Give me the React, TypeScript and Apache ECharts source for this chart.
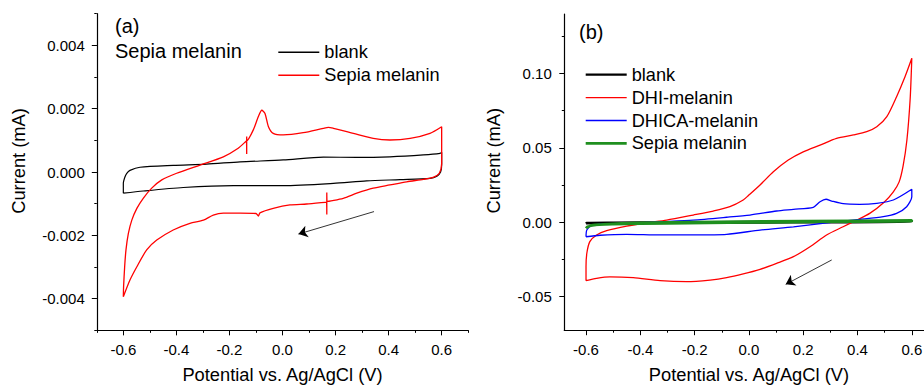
import React, { useEffect, useRef } from 'react';
import * as echarts from 'echarts';

const W = 924;
const H = 385;
const FONT = 'Liberation Sans';

// ---------- Panel (a) data: Potential (V), Current (mA) ----------
const blankA: number[][] = [
  [-0.600, -0.00067], [-0.600, -0.00036], [-0.594, -0.00016], [-0.587, -0.00004],
  [-0.575, 0.00005], [-0.537, 0.00015], [-0.412, 0.00021], [-0.286, 0.00025],
  [-0.160, 0.00032], [0.003, 0.00038], [0.154, 0.00047], [0.280, 0.00046],
  [0.405, 0.00048], [0.531, 0.00054], [0.594, 0.00059], [0.600, 0.00062],
  [0.600, 0.00022], [0.596, 0.00000], [0.582, -0.00013], [0.556, -0.00020],
  [0.443, -0.00024], [0.317, -0.00028], [0.192, -0.00036], [0.003, -0.00043],
  [-0.185, -0.00043], [-0.374, -0.00049], [-0.525, -0.00060], [-0.600, -0.00067],
];

const sepiaA: number[][] = [
  [-0.600, -0.00394], [-0.599, -0.00362], [-0.595, -0.00299], [-0.590, -0.00246],
  [-0.581, -0.00194], [-0.568, -0.00152], [-0.549, -0.00115], [-0.525, -0.00083],
  [-0.493, -0.00051], [-0.455, -0.00025], [-0.399, -0.00004], [-0.311, 0.00022],
  [-0.223, 0.00048], [-0.167, 0.00075], [-0.136, 0.00098], [-0.135, 0.00057],
  [-0.135, 0.00112], [-0.134, 0.00099], [-0.110, 0.00133], [-0.091, 0.00175],
  [-0.078, 0.00195], [-0.066, 0.00185], [-0.053, 0.00143], [-0.035, 0.00122],
  [0.003, 0.00117], [0.078, 0.00124], [0.154, 0.00138], [0.173, 0.00141],
  [0.192, 0.00138], [0.267, 0.00122], [0.342, 0.00106], [0.405, 0.00101],
  [0.481, 0.00106], [0.556, 0.00122], [0.600, 0.00143], [0.600, 0.00027],
  [0.591, -0.00004], [0.568, -0.00017], [0.531, -0.00023], [0.468, -0.00031],
  [0.405, -0.00041], [0.342, -0.00051], [0.280, -0.00067], [0.229, -0.00083],
  [0.168, -0.00093], [0.167, -0.00065], [0.167, -0.00134], [0.166, -0.00095],
  [0.091, -0.00101], [0.028, -0.00104], [-0.035, -0.00115], [-0.085, -0.00129],
  [-0.091, -0.00139], [-0.100, -0.00131], [-0.160, -0.00130], [-0.223, -0.00130],
  [-0.261, -0.00136], [-0.298, -0.00152], [-0.349, -0.00162], [-0.412, -0.00183],
  [-0.474, -0.00215], [-0.512, -0.00246], [-0.549, -0.00299], [-0.575, -0.00341],
  [-0.600, -0.00394],
];

const arrowA: number[][] = [[0.345, -0.00125], [0.06, -0.00196]];

// ---------- Panel (b) data ----------
const blankB: number[][] = [
  [-0.600, -0.0008], [-0.598, -0.0003], [-0.500, -0.0001], [-0.300, 0.0001],
  [0.000, 0.0003], [0.300, 0.0005], [0.600, 0.0008], [0.600, 0.0002],
  [0.300, -0.0001], [0.000, -0.0003], [-0.300, -0.0005], [-0.600, -0.0008],
];

const dhiB: number[][] = [
  [-0.600, -0.0392], [-0.600, -0.0298], [-0.597, -0.0208], [-0.586, -0.0130],
  [-0.561, -0.0085], [-0.524, -0.0056], [-0.450, -0.0025], [-0.376, -0.0003],
  [-0.303, 0.0015], [-0.205, 0.0049], [-0.131, 0.0076], [-0.070, 0.0105],
  [-0.021, 0.0150], [-0.002, 0.0180], [0.041, 0.0251], [0.090, 0.0340],
  [0.145, 0.0419], [0.200, 0.0474], [0.262, 0.0519], [0.323, 0.0564],
  [0.385, 0.0587], [0.434, 0.0609], [0.471, 0.0642], [0.508, 0.0710],
  [0.544, 0.0844], [0.575, 0.0978], [0.600, 0.1102], [0.594, 0.0830],
  [0.582, 0.0553], [0.568, 0.0380], [0.553, 0.0270], [0.532, 0.0205],
  [0.498, 0.0135], [0.445, 0.0060], [0.397, 0.0015], [0.347, -0.0030],
  [0.286, -0.0085], [0.225, -0.0164], [0.164, -0.0231], [0.102, -0.0276],
  [0.041, -0.0316], [-0.021, -0.0347], [-0.082, -0.0372], [-0.143, -0.0388],
  [-0.229, -0.0399], [-0.327, -0.0392], [-0.426, -0.0372], [-0.512, -0.0366],
  [-0.561, -0.0376], [-0.600, -0.0392],
];

const dhicaB: number[][] = [
  [-0.600, -0.0097], [-0.597, -0.0052], [-0.579, -0.0023], [-0.536, -0.0011],
  [-0.450, -0.0007], [-0.327, 0.0004], [-0.205, 0.0015], [-0.082, 0.0034],
  [0.004, 0.0049], [0.102, 0.0076], [0.164, 0.0087], [0.237, 0.0101],
  [0.262, 0.0138], [0.284, 0.0155], [0.305, 0.0143], [0.347, 0.0125],
  [0.408, 0.0121], [0.471, 0.0128], [0.532, 0.0150], [0.600, 0.0222],
  [0.600, 0.0172], [0.581, 0.0105], [0.544, 0.0060], [0.495, 0.0038],
  [0.408, 0.0020], [0.287, -0.0003], [0.164, -0.0030], [0.041, -0.0052],
  [-0.082, -0.0081], [-0.205, -0.0085], [-0.327, -0.0085], [-0.450, -0.0081],
  [-0.548, -0.0087], [-0.600, -0.0097],
];

const sepiaB: number[][] = [
  [-0.600, -0.0040], [-0.595, -0.0030], [-0.570, -0.0020], [-0.500, -0.0010],
  [-0.350, -0.0002], [-0.100, 0.0004], [0.200, 0.0008], [0.600, 0.0014],
  [0.600, 0.0008], [0.300, 0.0004], [0.000, -0.0001], [-0.300, -0.0007],
  [-0.500, -0.0012], [-0.580, -0.0020], [-0.600, -0.0040],
];

const arrowB: number[][] = [[0.305, -0.0253], [0.1355, -0.0417]];

const legendA = ['blank', 'Sepia melanin'];
const legendB = ['blank', 'DHI-melanin', 'DHICA-melanin', 'Sepia melanin'];
const xTitle = 'Potential vs. Ag/AgCl (V)';
const yTitle = 'Current (mA)';

// ---------- layout ----------
const FRAME_A = { x0: 96.8, x1: 468.2, y0: 13.65, y1: 330.35, xmin: -0.7, xmax: 0.7, ymin: -0.005, ymax: 0.005 };
const MAJOR_A = { xmin: -0.6, xmax: 0.6, xstep: 0.2, ymin: -0.004, ymax: 0.004, ystep: 0.002 };
const FRAME_B = { x0: 564.3, x1: 938.95, y0: 14.0, y1: 330.2, xmin: -0.68, xmax: 0.7, ymin: -0.0725, ymax: 0.14 };
const MAJOR_B = { xmin: -0.6, xmax: 0.6, xstep: 0.2, ymin: -0.05, ymax: 0.15, ystep: 0.05 };

type Frame = typeof FRAME_A;
type Major = typeof MAJOR_A;

const px = (f: Frame, v: number) => f.x0 + ((v - f.xmin) / (f.xmax - f.xmin)) * (f.x1 - f.x0);
const py = (f: Frame, v: number) => f.y1 - ((v - f.ymin) / (f.ymax - f.ymin)) * (f.y1 - f.y0);

const mainGrid = (f: Frame) => ({
  left: f.x0, right: W - f.x1, top: f.y0, bottom: H - f.y1,
  containLabel: false, outerBoundsMode: 'none',
});
const overlayGrid = (f: Frame, m: Major) => ({
  left: px(f, m.xmin), right: W - px(f, m.xmax), top: py(f, m.ymax), bottom: H - py(f, m.ymin),
  containLabel: false, outerBoundsMode: 'none',
});

const clean = (v: number) => (Math.abs(v) < 1e-9 ? 0 : v);
const axisColor = '#000';
const TITLE_SIZE = 18.3;

function buildOption() {
  const lineStyleAxis = { color: axisColor, width: 1.2 };
  const labelStyle = { fontSize: 15, color: '#000', fontFamily: FONT };
  const nameStyle = { fontSize: TITLE_SIZE, color: '#000', fontFamily: FONT };

  const xAxes: any[] = [
    {
      type: 'value', gridIndex: 0, min: FRAME_A.xmin, max: FRAME_A.xmax, interval: 0.1,
      axisLine: { show: true, onZero: false, lineStyle: lineStyleAxis },
      axisTick: { show: true, length: 2.5, lineStyle: { color: axisColor, width: 1 } },
      axisLabel: { show: false }, splitLine: { show: false },
    },
    {
      type: 'value', gridIndex: 1, min: MAJOR_A.xmin, max: MAJOR_A.xmax, interval: MAJOR_A.xstep,
      offset: FRAME_A.y1 - py(FRAME_A, MAJOR_A.ymin),
      axisLine: { show: false, onZero: false },
      axisTick: { show: true, length: 5, lineStyle: { color: axisColor, width: 1 } },
      axisLabel: { ...labelStyle, margin: 11.5, formatter: (v: number) => clean(v).toFixed(1) },
      splitLine: { show: false },
      name: xTitle, nameLocation: 'middle', nameGap: 35.5, nameMoveOverlap: false,
      nameTextStyle: nameStyle,
    },
    {
      type: 'value', gridIndex: 2, min: FRAME_B.xmin, max: FRAME_B.xmax,
      axisLine: { show: true, onZero: false, lineStyle: lineStyleAxis },
      axisTick: { show: false }, axisLabel: { show: false }, splitLine: { show: false },
    },
    {
      type: 'value', gridIndex: 3, min: MAJOR_B.xmin, max: MAJOR_B.xmax, interval: MAJOR_B.xstep,
      offset: FRAME_B.y1 - py(FRAME_B, MAJOR_B.ymin),
      axisLine: { show: false, onZero: false },
      axisTick: { show: true, length: 5, lineStyle: { color: axisColor, width: 1 } },
      minorTick: { show: true, splitNumber: 2, length: 2.5, lineStyle: { color: axisColor, width: 1 } },
      axisLabel: { ...labelStyle, margin: 11.5, formatter: (v: number) => clean(v).toFixed(1) },
      splitLine: { show: false }, minorSplitLine: { show: false },
      name: xTitle, nameLocation: 'middle', nameGap: 35.5, nameMoveOverlap: false,
      nameTextStyle: nameStyle,
    },
  ];

  const yAxes: any[] = [
    {
      type: 'value', gridIndex: 0, min: FRAME_A.ymin, max: FRAME_A.ymax, interval: 0.001,
      axisLine: { show: true, onZero: false, lineStyle: lineStyleAxis },
      axisTick: { show: true, length: 2.5, lineStyle: { color: axisColor, width: 1 } },
      axisLabel: { show: false }, splitLine: { show: false },
    },
    {
      type: 'value', gridIndex: 1, min: MAJOR_A.ymin, max: MAJOR_A.ymax, interval: MAJOR_A.ystep,
      offset: px(FRAME_A, MAJOR_A.xmin) - FRAME_A.x0,
      axisLine: { show: false, onZero: false },
      axisTick: { show: true, length: 5, lineStyle: { color: axisColor, width: 1 } },
      axisLabel: { ...labelStyle, margin: 12, formatter: (v: number) => clean(v).toFixed(3) },
      splitLine: { show: false },
    },
    {
      type: 'value', gridIndex: 2, min: FRAME_B.ymin, max: FRAME_B.ymax,
      axisLine: { show: true, onZero: false, lineStyle: lineStyleAxis },
      axisTick: { show: false }, axisLabel: { show: false }, splitLine: { show: false },
    },
    {
      type: 'value', gridIndex: 3, min: MAJOR_B.ymin, max: MAJOR_B.ymax, interval: MAJOR_B.ystep,
      offset: px(FRAME_B, MAJOR_B.xmin) - FRAME_B.x0,
      axisLine: { show: false, onZero: false },
      axisTick: { show: true, length: 5, lineStyle: { color: axisColor, width: 1 } },
      minorTick: { show: true, splitNumber: 2, length: 2.5, lineStyle: { color: axisColor, width: 1 } },
      axisLabel: {
        ...labelStyle, margin: 12.5,
        formatter: (v: number) => (v > 0.12 ? '' : clean(v).toFixed(2)),
      },
      splitLine: { show: false }, minorSplitLine: { show: false },
    },
  ];

  const mkSeries = (name: string, data: number[][], color: string, width: number, xi: number, yi: number) => ({
    type: 'line', name, data, xAxisIndex: xi, yAxisIndex: yi,
    symbol: 'none', showSymbol: false, smooth: 0.25,
    color, lineStyle: { color, width },
    emphasis: { disabled: true }, silent: true,
  });

  const arrowSeries = (pts: number[][], xi: number, yi: number) => ({
    type: 'lines', coordinateSystem: 'cartesian2d', xAxisIndex: xi, yAxisIndex: yi,
    symbol: ['none', 'arrow'], symbolSize: 9, silent: true,
    lineStyle: { color: '#000', width: 0.8, opacity: 1, curveness: 0 },
    itemStyle: { color: '#000' },
    emphasis: { disabled: true },
    data: [{ coords: [pts[0], pts[1]] }],
    z: 5,
  });

  const icon = (t: number) => `path://M0,0H41V${t}H0Z`;
  const legendText = { fontSize: 18.2, color: '#000', fontFamily: FONT };

  return {
    animation: false,
    backgroundColor: '#ffffff',
    textStyle: { fontFamily: FONT },
    grid: [mainGrid(FRAME_A), overlayGrid(FRAME_A, MAJOR_A), mainGrid(FRAME_B), overlayGrid(FRAME_B, MAJOR_B)],
    xAxis: xAxes,
    yAxis: yAxes,
    legend: [
      {
        orient: 'vertical', left: 278.3, top: 43.3, itemWidth: 41, itemHeight: 18, itemGap: 5,
        selectedMode: false, textStyle: legendText, padding: 0,
        data: [
          { name: legendA[0], icon: icon(1.4) },
          { name: legendA[1], icon: icon(1.4) },
        ],
      },
      {
        orient: 'vertical', left: 585.7, top: 65.7, itemWidth: 41, itemHeight: 18, itemGap: 4.9,
        selectedMode: false, textStyle: legendText, padding: 0,
        formatter: (n: string) => n.replace('_b', ''),
        data: [
          { name: legendB[0] + '_b', icon: icon(2.2) },
          { name: legendB[1], icon: icon(1.4) },
          { name: legendB[2], icon: icon(1.4) },
          { name: legendB[3] + '_b', icon: icon(2.6) },
        ],
      },
    ],
    series: [
      mkSeries(legendA[0], blankA, '#000000', 1.2, 0, 0),
      mkSeries(legendA[1], sepiaA, '#ff0000', 1.3, 0, 0),
      arrowSeries(arrowA, 0, 0),
      mkSeries(legendB[0] + '_b', blankB, '#000000', 2, 2, 2),
      mkSeries(legendB[1], dhiB, '#ff0000', 1.3, 2, 2),
      mkSeries(legendB[2], dhicaB, '#0000ff', 1.3, 2, 2),
      mkSeries(legendB[3] + '_b', sepiaB, '#1f8f1f', 2.6, 2, 2),
      arrowSeries(arrowB, 2, 2),
    ],
    graphic: [
      { type: 'text', x: 115, y: 25.7, style: { text: '(a)', fontSize: 20, fontFamily: FONT, fill: '#000', align: 'left', verticalAlign: 'middle' } },
      { type: 'text', x: 115, y: 50.7, style: { text: 'Sepia melanin', fontSize: 20, fontFamily: FONT, fill: '#000', align: 'left', verticalAlign: 'middle' } },
      { type: 'text', x: 579, y: 31.7, style: { text: '(b)', fontSize: 20, fontFamily: FONT, fill: '#000', align: 'left', verticalAlign: 'middle' } },
      { type: 'text', x: 18.3, y: 161, rotation: Math.PI / 2, style: { text: yTitle, fontSize: TITLE_SIZE, fontFamily: FONT, fill: '#000', align: 'center', verticalAlign: 'middle' } },
      { type: 'text', x: 493.3, y: 160.7, rotation: Math.PI / 2, style: { text: yTitle, fontSize: TITLE_SIZE, fontFamily: FONT, fill: '#000', align: 'center', verticalAlign: 'middle' } },
    ],
  };
}

export default function App() {
  const ref = useRef<HTMLDivElement>(null);
  useEffect(() => {
    if (!ref.current) return;
    const chart = echarts.init(ref.current, undefined, { renderer: 'svg', width: W, height: H });
    chart.setOption(buildOption() as any);
    return () => chart.dispose();
  }, []);
  return (
    <div
      ref={ref}
      style={{ position: 'absolute', left: 0, top: 0, width: W, height: H, background: '#fff' }}
    />
  );
}
